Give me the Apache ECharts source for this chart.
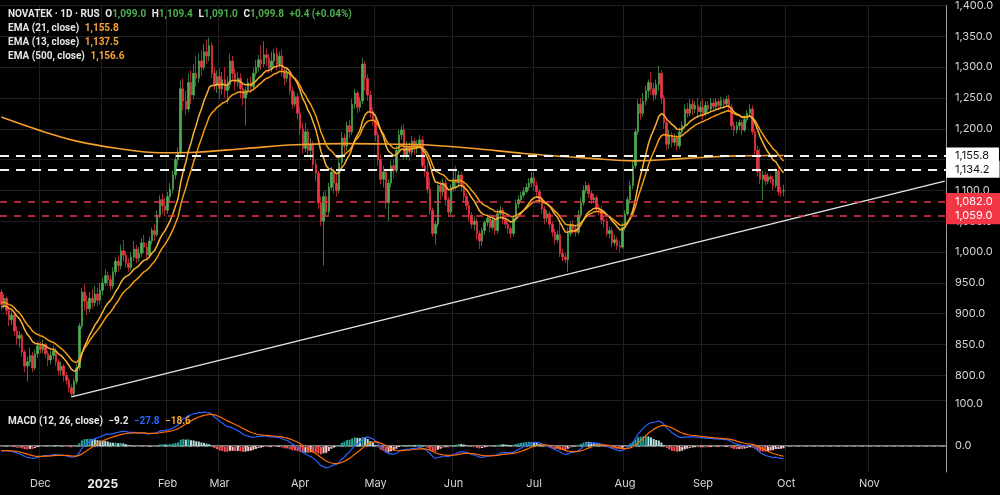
<!DOCTYPE html>
<html><head><meta charset="utf-8">
<script src="https://cdn.jsdelivr.net/npm/echarts@6/dist/echarts.min.js"></script>
<style>html,body{margin:0;padding:0;background:#000;}#c{width:1000px;height:495px;}</style>
</head><body><div id="c"></div>
<script>
// bars per month (trading sessions), first "Nov" is partial, last two are future space
const monthBars = [['Nov',15],['Dec',24],['2025',25],['Feb',20],['Mar',31],['Apr',29],['May',30],['Jun',31],['Jul',35],['Aug',30],['Sep',32],['Oct',32],['Nov',30]];
// [open, close, low, high]
const ohlc = [
[935,915,905,940],[915,925,908,932],[925,905,898,928],[905,890,880,912],[890,898,882,905],
[898,872,865,902],[872,860,850,880],[860,865,845,872],[865,838,830,868],[838,815,805,842],
[815,822,790,830],[822,832,815,845],[832,812,805,838],[812,835,808,842],[835,848,828,855],
[848,842,835,855],[842,850,836,858],[850,835,828,853],[835,825,815,840],[825,832,818,840],
[832,840,826,848],[840,822,815,845],[822,808,800,826],[808,815,800,822],[815,800,790,818],
[800,792,785,805],[792,780,772,796],[780,770,764,785],[770,790,766,795],[790,812,785,818],
[812,880,808,885],[880,935,875,942],[935,920,905,948],[920,908,898,930],[908,925,902,935],
[925,918,908,940],[918,932,912,945],[932,922,912,942],[922,938,915,950],
[938,950,930,958],[950,962,945,972],[962,955,945,968],[955,945,938,962],[945,968,940,975],
[968,985,962,992],[985,978,968,995],[978,1002,972,1012],[1002,995,985,1020],[995,982,975,1002],
[982,975,968,990],[975,992,970,1000],[992,1005,985,1018],[1005,990,982,1012],[990,998,984,1008],
[998,1015,992,1022],[1015,1008,998,1028],[1008,995,988,1015],[995,1018,992,1025],[1018,1035,1012,1040],
[1035,1028,1018,1045],[1028,1060,1025,1068],[1060,1085,1055,1092],[1085,1075,1062,1095],[1075,1068,1058,1088],
[1068,1090,1062,1098],[1090,1102,1080,1112],[1102,1125,1095,1132],[1125,1150,1118,1158],[1150,1162,1140,1170],
[1162,1265,1158,1278],[1265,1245,1230,1282],[1245,1232,1222,1262],[1232,1275,1228,1290],[1275,1255,1240,1295],
[1255,1290,1248,1305],[1290,1282,1268,1318],[1282,1310,1275,1322],[1310,1300,1285,1328],[1300,1325,1295,1338],
[1325,1318,1305,1345],[1318,1335,1310,1348],[1335,1290,1282,1340],[1290,1270,1262,1300],[1270,1285,1258,1295],
[1285,1265,1248,1298],[1265,1280,1255,1292],[1280,1262,1250,1300],[1262,1272,1240,1285],[1272,1310,1265,1322],
[1310,1290,1280,1318],[1290,1275,1262,1298],[1275,1282,1268,1292],[1282,1265,1250,1290],[1265,1250,1238,1272],
[1250,1262,1205,1268],[1262,1275,1255,1282],[1275,1268,1258,1285],[1268,1290,1262,1298],[1290,1300,1285,1312],
[1300,1312,1292,1320],[1312,1305,1295,1335],[1305,1320,1300,1342],[1320,1315,1302,1330],[1315,1298,1290,1322],
[1298,1310,1292,1325],[1310,1322,1302,1330],[1322,1305,1295,1332],[1305,1318,1298,1325],[1318,1295,1285,1328],
[1295,1282,1270,1300],[1282,1290,1275,1298],[1290,1262,1255,1295],[1262,1240,1232,1268],[1240,1252,1235,1260],
[1252,1225,1215,1258],
[1225,1200,1190,1235],[1200,1168,1160,1210],[1168,1195,1162,1210],[1195,1165,1158,1200],[1165,1175,1150,1185],
[1175,1142,1135,1180],[1142,1128,1115,1150],[1128,1080,1070,1132],[1080,1050,1042,1090],[1050,1090,978,1098],
[1090,1065,1058,1100],[1065,1105,1060,1112],[1105,1130,1100,1138],[1130,1112,1095,1135],[1112,1100,1090,1125],
[1100,1145,1095,1152],[1145,1185,1140,1195],[1185,1172,1160,1192],[1172,1205,1165,1212],[1205,1195,1185,1215],
[1195,1240,1190,1248],[1240,1258,1232,1265],[1258,1235,1225,1262],[1235,1245,1228,1252],[1245,1305,1240,1315],
[1305,1282,1262,1310],[1282,1255,1245,1288],[1255,1228,1218,1262],[1228,1215,1205,1235],
[1215,1190,1180,1225],[1190,1150,1140,1195],[1150,1118,1110,1158],[1118,1130,1105,1140],[1130,1080,1070,1135],
[1080,1112,1050,1118],[1112,1140,1105,1148],[1140,1132,1120,1150],[1132,1165,1128,1172],[1165,1190,1160,1198],
[1190,1198,1182,1205],[1198,1158,1150,1208],[1158,1172,1150,1180],[1172,1162,1148,1178],[1162,1180,1155,1188],
[1180,1168,1158,1185],[1168,1175,1160,1182],[1175,1182,1168,1190],[1182,1140,1135,1188],[1140,1130,1122,1158],
[1130,1102,1095,1145],[1102,1068,1060,1120],[1068,1030,1025,1072],[1030,1045,1012,1050],[1045,1108,1040,1115],
[1108,1098,1085,1115],[1098,1112,1090,1120],[1112,1085,1075,1118],[1085,1065,1058,1090],[1065,1105,1060,1110],
[1105,1118,1098,1135],[1118,1112,1100,1140],[1112,1125,1105,1132],[1125,1108,1098,1130],[1108,1090,1082,1112],
[1090,1075,1068,1095],[1075,1060,1050,1080],[1060,1045,1038,1065],[1045,1050,1035,1058],[1050,1030,1020,1055],
[1030,1018,1005,1035],[1018,1035,1010,1040],[1035,1048,1028,1052],[1048,1055,1042,1060],[1055,1040,1032,1062],
[1040,1052,1035,1058],[1052,1035,1028,1056],[1035,1062,1030,1070],[1062,1068,1055,1075],[1068,1052,1045,1072],
[1052,1045,1038,1058],[1045,1038,1030,1050],[1038,1030,1022,1042],[1030,1055,1025,1060],[1055,1078,1050,1085],
[1078,1085,1072,1092],[1085,1092,1080,1098],[1092,1098,1088,1105],[1098,1105,1095,1112],[1105,1112,1100,1120],
[1112,1120,1105,1130],
[1120,1108,1100,1130],[1108,1098,1090,1115],[1098,1085,1078,1102],[1085,1070,1062,1090],[1070,1055,1045,1075],
[1055,1062,1048,1068],[1062,1045,1038,1066],[1045,1032,1025,1050],[1032,1020,1012,1038],[1020,1028,1015,1035],
[1028,998,992,1048],[998,992,985,1005],[992,988,982,998],[988,1030,968,1040],[1030,1045,1025,1050],
[1045,1038,1030,1052],[1038,1032,1025,1045],[1032,1060,1028,1068],[1060,1080,1055,1088],[1080,1100,1075,1108],
[1100,1108,1095,1115],[1108,1095,1088,1112],[1095,1085,1078,1100],[1085,1088,1080,1095],[1088,1072,1065,1092],
[1072,1068,1060,1078],[1068,1052,1045,1075],[1052,1050,1040,1058],[1050,1030,1025,1055],[1030,1035,1022,1042],
[1035,1015,1008,1040],[1015,1020,1010,1028],[1020,1010,1003,1025],[1010,1008,1000,1018],[1008,1040,1005,1048],
[1040,1062,1035,1068],[1062,1085,1058,1090],[1085,1108,1078,1115],[1108,1140,1102,1148],[1140,1195,1135,1200],
[1195,1240,1190,1248],[1240,1225,1215,1250],[1225,1245,1220,1258],[1245,1262,1238,1270],[1262,1275,1250,1280],
[1275,1265,1255,1292],[1265,1255,1245,1275],[1255,1272,1248,1280],[1272,1290,1262,1302],[1290,1250,1240,1295],
[1250,1210,1200,1255],[1210,1175,1165,1215],[1175,1190,1168,1198],[1190,1178,1170,1195],[1178,1185,1172,1192],
[1185,1172,1165,1190],[1172,1195,1168,1202],[1195,1205,1188,1212],[1205,1232,1200,1240],[1232,1225,1218,1242],
[1225,1240,1220,1248],[1240,1232,1222,1248],[1232,1238,1225,1245],[1238,1228,1218,1250],[1228,1235,1222,1245],
[1235,1225,1215,1248],[1225,1238,1220,1245],[1238,1232,1225,1245],[1232,1242,1228,1250],[1242,1236,1230,1248],
[1236,1244,1232,1250],[1244,1238,1232,1248],[1238,1246,1234,1252],[1246,1240,1232,1250],[1240,1248,1236,1254],
[1248,1235,1228,1255],[1235,1205,1198,1240],[1205,1198,1188,1212],[1198,1205,1192,1212],[1205,1210,1198,1215],
[1210,1198,1190,1215],[1198,1215,1195,1222],[1215,1225,1210,1230],[1225,1232,1220,1240],[1232,1195,1190,1238],
[1195,1165,1158,1200],[1165,1130,1122,1172],[1130,1118,1110,1168],[1118,1125,1085,1132],[1125,1115,1108,1130],
[1115,1122,1110,1128],[1122,1118,1112,1126],[1118,1108,1100,1124],[1108,1132,1104,1136],[1132,1098,1092,1140],
[1098,1096,1090,1106],[1099,1099.8,1091,1109.4]
];
// EMA 500 read at a few bars: [bar index, value]
const ema500Knots = [[0,1219],[15,1197],[29,1180],[45,1168],[61,1161],[75,1162],[94,1168],[113,1174],[133,1176],[152,1175],[163,1174],[182,1168],[201,1160],[227,1152],[244,1148],[263,1152],[283,1156],[301,1156.6]];
// support trend line: [bar index, price]
const trendLine = [[27,765],[363,1115]];
const whiteLevels = [1155.8, 1134.2];
const redLevels = [1082.0, 1059.0];
const seeds = {ema13: 910, ema21: 918, ema12: 915, ema26: 929, signal: -10};
const emaLegend = {ema21: 1155.8, ema13: 1137.5, ema500: 1156.6};
const macdLegend = [-9.2, -27.8, -18.6];
const changeText = '+0.4 (+0.04%)';

const cats = [], starts = new Set();
monthBars.forEach(([m, n], mi) => {
  for (let k = 0; k < n; k++) { if (k === 0 && mi > 0) starts.add(cats.length); cats.push(m + '|' + k); }
});
const isStart = (i) => starts.has(i);
const closes = ohlc.map(d => d[1]);
function ema(src, p, seed) { const k = 2 / (p + 1); let prev = seed; return src.map(v => (prev = v * k + prev * (1 - k))); }
const e13 = ema(closes, 13, seeds.ema13);
const e21 = ema(closes, 21, seeds.ema21);
const f12 = ema(closes, 12, seeds.ema12), s26 = ema(closes, 26, seeds.ema26);
const macd = f12.map((v, i) => v - s26[i]);
const signal = ema(macd, 9, seeds.signal);
const hist = macd.map((v, i) => v - signal[i]);
const histData = hist.map((v, i) => {
  const prev = i > 0 ? hist[i - 1] : v;
  let c;
  if (v >= 0) c = v >= prev ? '#26a69a' : '#b2dfdb';
  else c = v > prev ? '#ffcdd2' : '#ff5252';
  return {value: v, itemStyle: {color: c}};
});

const fmt = v => Number(v).toLocaleString('en-US', {minimumFractionDigits: 1, maximumFractionDigits: 1});
const sfmt = v => (v < 0 ? '\u2212' : '') + fmt(Math.abs(v));
const FONT = 'Inter, "Noto Sans", sans-serif';
const LFONT = 'Roboto, "Noto Sans", sans-serif';
const G = '#4caf50', R = '#f23645';
const last = ohlc[ohlc.length - 1];
const gridColor = '#1f1f1f';

const legend1 =
  '{w|NOVATEK · 1D · RUS}  {w|O}{g|' + fmt(last[0]) + '}  {w|H}{g|' + fmt(last[3]) + '}  {w|L}{g|' + fmt(last[2]) + '}  {w|C}{g|' + fmt(last[1]) + '}  {g|' + changeText + '}\n' +
  '{w|EMA (21, close)}  {o|' + fmt(emaLegend.ema21) + '}\n' +
  '{w|EMA (13, close)}  {o|' + fmt(emaLegend.ema13) + '}\n' +
  '{w|EMA (500, close)}  {o|' + fmt(emaLegend.ema500) + '}';
const legend2 = '{w|MACD (12, 26, close)}  {w|' + sfmt(macdLegend[0]) + '}  {b|' + sfmt(macdLegend[1]) + '}  {o|' + sfmt(macdLegend[2]) + '}';
const rs = (c) => ({color: c, fontSize: 10, fontFamily: LFONT, lineHeight: 14});
const rich = {w: rs('#e6e6e6'), g: rs('#4caf50'), o: rs('#f5a33a'), b: rs('#2962ff')};
const lvlLabel = (bg, fg) => ({show: true, position: 'end', distance: 0, formatter: p => fmt(p.value), color: fg, backgroundColor: bg, padding: [2, 10, 2, 9], fontSize: 11, fontFamily: FONT, lineHeight: 13});

const chart = echarts.init(document.getElementById('c'), null, {renderer: 'canvas'});
chart.setOption({
  backgroundColor: '#000',
  animation: false,
  title: [
    {left: 3, top: 2, text: legend1, textStyle: {rich: rich, fontSize: 10, lineHeight: 14}},
    {left: 3, top: 409, text: legend2, textStyle: {rich: rich, fontSize: 10, lineHeight: 14}}
  ],
  grid: [
    {left: 0, right: 54, top: 0, height: 400},
    {left: 0, right: 54, top: 400, height: 72}
  ],
  xAxis: [
    {type: 'category', data: cats, gridIndex: 0, boundaryGap: true,
     axisLine: {show: false}, axisTick: {show: false}, axisLabel: {show: false},
     splitLine: {show: true, interval: isStart, lineStyle: {color: gridColor, width: 1}}},
    {type: 'category', data: cats, gridIndex: 1, boundaryGap: true,
     axisLine: {show: true, lineStyle: {color: '#a8a8a8', width: 1.5}}, axisTick: {show: false},
     axisLabel: {interval: isStart, color: '#d6d6d6', fontSize: 11, fontFamily: FONT, margin: 6,
       formatter: v => { const m = v.split('|')[0]; return m === '2025' ? '{b|2025}' : m; },
       rich: {b: {fontWeight: 'bold', color: '#eeeeee', fontSize: 12, fontFamily: FONT}}},
     splitLine: {show: true, interval: isStart, lineStyle: {color: gridColor, width: 1}}}
  ],
  yAxis: [
    {type: 'value', gridIndex: 0, position: 'right', min: 760, max: 1400, splitNumber: 12,
     axisLine: {show: true, lineStyle: {color: '#9a9a9a'}}, axisTick: {show: false},
     axisLabel: {color: '#d6d6d6', fontSize: 11, fontFamily: FONT, margin: 9, formatter: fmt, showMinLabel: false},
     splitLine: {show: true, lineStyle: {color: gridColor}}},
    {type: 'value', gridIndex: 1, position: 'right', min: -62, max: 110, splitNumber: 2,
     axisLine: {show: true, lineStyle: {color: '#9a9a9a'}}, axisTick: {show: false},
     axisLabel: {color: '#d6d6d6', fontSize: 11, fontFamily: FONT, margin: 9, formatter: fmt, showMinLabel: false, showMaxLabel: false},
     splitLine: {show: false}}
  ],
  series: [
    {type: 'candlestick', name: 'NOVATEK', xAxisIndex: 0, yAxisIndex: 0, data: ohlc, barWidth: 2,
     itemStyle: {color: G, color0: R, borderColor: G, borderColor0: R, borderWidth: 0.7},
     markLine: {symbol: ['none', 'none'], silent: true, animation: false,
       data: [
         ...whiteLevels.map(v => ({yAxis: v, lineStyle: {color: '#f2f2f2', type: [9, 7], width: 2}, label: lvlLabel('#ffffff', '#111111')})),
         ...redLevels.map(v => ({yAxis: v, lineStyle: {color: '#e0394f', type: [7, 7], width: 1.5}, label: lvlLabel('#f23645', '#ffffff')}))
       ]}},
    {type: 'line', name: 'EMA500', xAxisIndex: 0, yAxisIndex: 0, data: ema500Knots, smooth: 0.35, showSymbol: false, symbol: 'none',
     lineStyle: {color: '#f5a02a', width: 1.6}},
    {type: 'line', name: 'EMA21', xAxisIndex: 0, yAxisIndex: 0, data: e21, smooth: false, symbol: 'none',
     lineStyle: {color: '#f39c12', width: 1.5}},
    {type: 'line', name: 'EMA13', xAxisIndex: 0, yAxisIndex: 0, data: e13, smooth: false, symbol: 'none',
     lineStyle: {color: '#f8b133', width: 1.5}},
    {type: 'line', name: 'Trend', xAxisIndex: 0, yAxisIndex: 0, data: trendLine, symbol: 'none',
     lineStyle: {color: '#e8e8e8', width: 1.2}},
    {type: 'bar', name: 'Hist', xAxisIndex: 1, yAxisIndex: 1, data: histData, barWidth: 2,
     markLine: {symbol: ['none', 'none'], silent: true, label: {show: false},
       data: [{yAxis: 0}], lineStyle: {color: '#555555', type: [4, 4], width: 1}}},
    {type: 'line', name: 'MACD', xAxisIndex: 1, yAxisIndex: 1, data: macd, symbol: 'none',
     lineStyle: {color: '#2962ff', width: 1.2}},
    {type: 'line', name: 'Signal', xAxisIndex: 1, yAxisIndex: 1, data: signal, symbol: 'none',
     lineStyle: {color: '#ff6d00', width: 1.2}}
  ]
});
</script>
</body></html>
